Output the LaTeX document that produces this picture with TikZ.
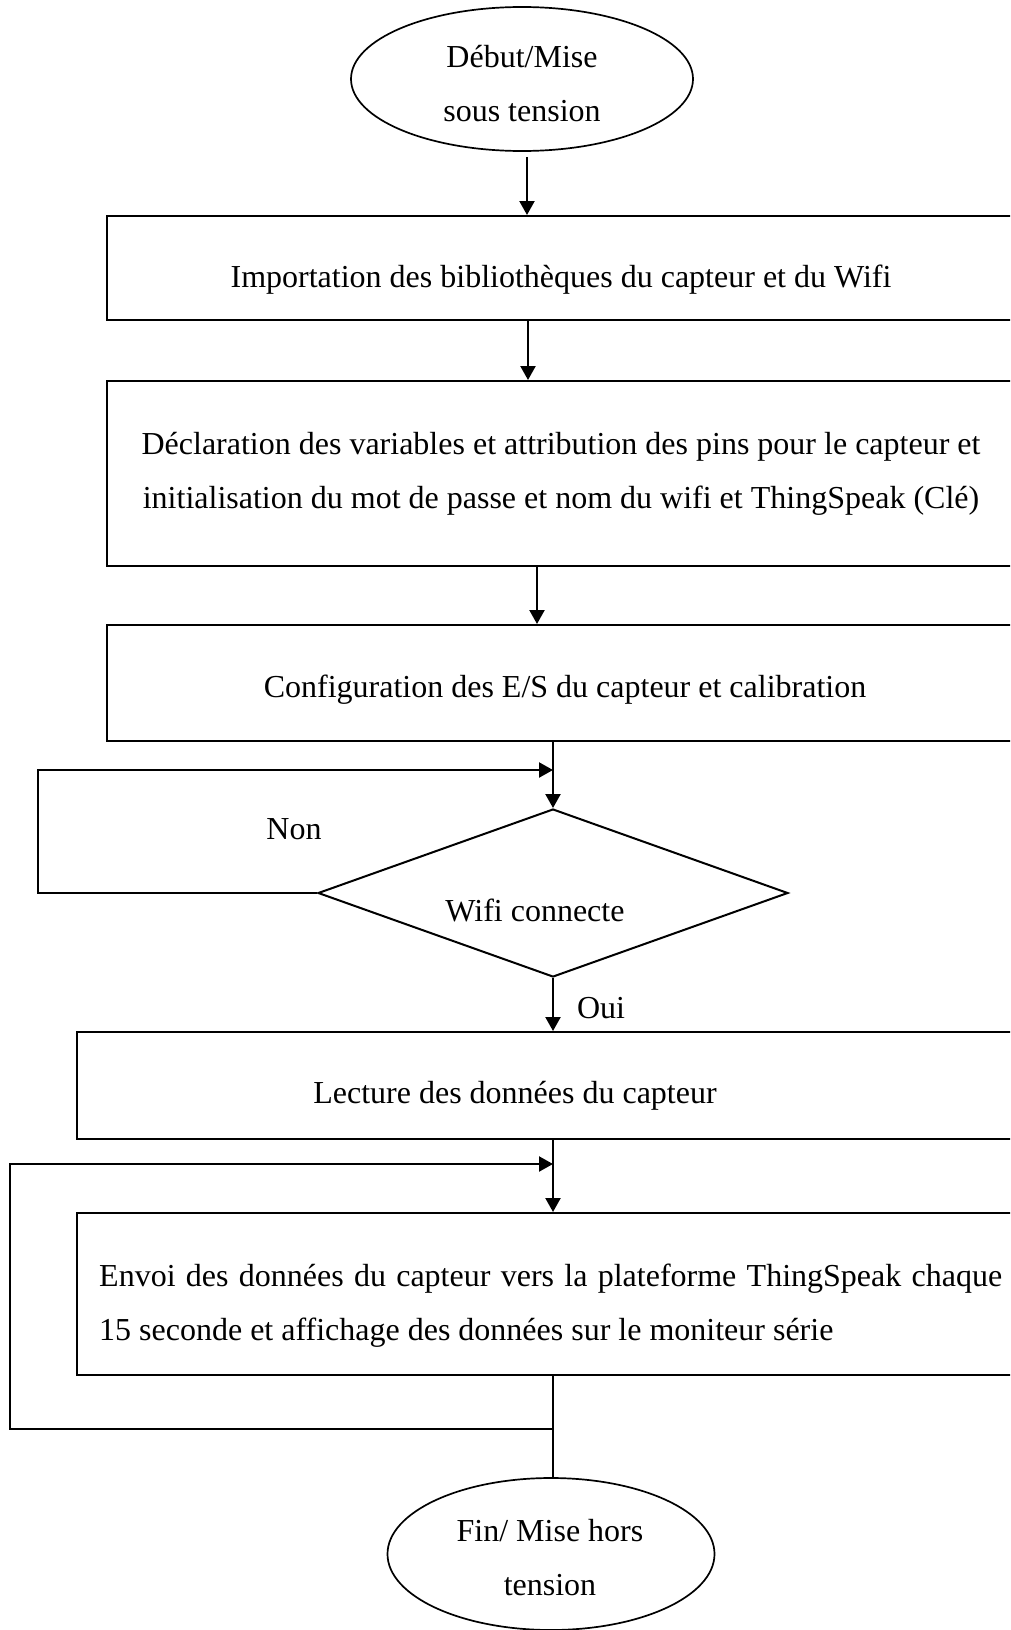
\documentclass[tikz,border=0pt]{standalone}
\usepackage{fontspec}
\setmainfont{Liberation Serif}
\usetikzlibrary{shapes.geometric,arrows.meta}
\begin{document}
\begin{tikzpicture}[x=1pt,y=-1pt,
  every node/.style={font=\fontsize{32}{54}\selectfont},
  frame/.style={draw, line width=2pt, rectangle, inner sep=0pt},
  term/.style={draw, line width=1.7pt, ellipse, align=center, inner sep=0pt},
  choice/.style={draw, line width=2pt, diamond, aspect=2.8, inner sep=0pt,
                 minimum width=470pt, minimum height=168pt},
  lbl/.style={inner sep=0pt, align=center},
  link/.style={line width=2.2pt},
  arr/.style={link, -{Triangle[length=14pt,width=15pt]}}
]
\useasboundingbox (0,0) rectangle (1010,1630);
\clip (0,0) rectangle (1010,1630);

% terminals
\node[term, minimum width=342pt, minimum height=144pt] (start) at (522,79) {};
\node[lbl] (starttxt) at (522,84) {Début/Mise\\sous tension};
\node[term, minimum width=327pt, minimum height=152pt] (stop) at (551,1554) {};
\node[lbl] (stoptxt) at (550,1558) {Fin/ Mise hors\\tension};

% process boxes
\node[frame, minimum width=908pt, minimum height=104pt] (imp) at (561,268) {};
\node[lbl] (imptxt) at (561,280)
  {Importation des bibliothèques du capteur et du Wifi};
\node[frame, minimum width=908pt, minimum height=185pt] (decl) at (561,473.5) {};
\node[lbl] (decltxt) at (561,474)
  {Déclaration des variables et attribution des pins pour le capteur et\\
   initialisation du mot de passe et nom du wifi et ThingSpeak (Clé)};
\node[frame, minimum width=908pt, minimum height=116pt] (conf) at (561,683) {};
\node[lbl] (conftxt) at (565,690)
  {Configuration des E/S du capteur et calibration};

% decision
\node[choice] (wifi) at (553,893) {};
\node[lbl] (wifitxt) at (535,910) {Wifi connecte};
\node[lbl] (non) at (294,829) {Non};
\node[lbl] (oui) at (601,1008) {Oui};

\node[frame, minimum width=947pt, minimum height=107pt] (read) at (550.5,1085.5) {};
\node[lbl] (readtxt) at (515,1096) {Lecture des données du capteur};

\node[frame, minimum width=947pt, minimum height=162pt] (send) at (550.5,1294) {};
\node[inner sep=0pt, align=left, anchor=west] (sendtxt) at (99,1306)
  {\makebox[903pt][s]{Envoi des données du capteur vers la plateforme ThingSpeak chaque}\\
   15 seconde et affichage des données sur le moniteur série};

% junctions of the loops
\coordinate (j1) at (553,770);
\coordinate (n1) at (38,893);
\coordinate (n2) at (38,770);
\coordinate (j2) at (553,1164);
\coordinate (s1) at (553,1429);
\coordinate (s2) at (10,1429);
\coordinate (s3) at (10,1164);

% connectors
\draw[arr] ([xshift=5pt,yshift=-5pt]start.south) -- ([xshift=5pt]start.south |- imp.north);
\draw[arr] ([xshift=-33pt]imp.south) -- ([xshift=-33pt]decl.north);
\draw[arr] ([xshift=-24pt]decl.south) -- ([xshift=-24pt]conf.north);
\draw[arr] (conf.south -| wifi.north) -- (wifi.north);
\draw[arr] (wifi.west) -- (n1) -- (n2) -- (j1);
\draw[arr] (wifi.south) -- (wifi.south |- read.north);
\draw[arr] (read.south -| j2) -- (send.north -| j2);
\draw[arr] (s1) -- (s2) -- (s3) -- (j2);
\draw[link] (send.south -| s1) -- (stop.north -| s1);
\end{tikzpicture}
\end{document}
